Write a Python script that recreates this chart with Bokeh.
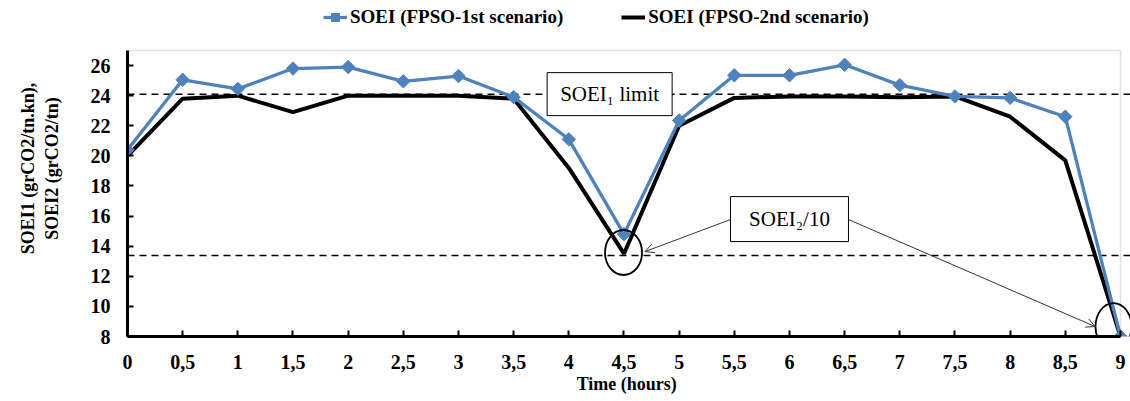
from bokeh.plotting import figure
from bokeh.models import (ColumnDataSource, Legend, LegendItem, Span, Label, Arrow,
                          OpenHead, FixedTicker, Range1d, BoxAnnotation)
from bokeh.embed import file_html
from bokeh.resources import INLINE

hours = [0, 0.5, 1, 1.5, 2, 2.5, 3, 3.5, 4, 4.5, 5, 5.5, 6, 6.5, 7, 7.5, 8, 8.5, 9]
soei_1st = [20.4, 25.05, 24.45, 25.8, 25.9, 24.95, 25.3, 23.9, 21.1, 14.8, 22.35,
            25.35, 25.35, 26.05, 24.7, 23.95, 23.85, 22.6, 8.0]
soei_2nd = [20.0, 23.8, 24.0, 22.9, 24.0, 24.0, 24.0, 23.8, 19.2, 13.5, 22.0,
            23.85, 23.95, 23.95, 23.9, 23.95, 22.6, 19.7, 8.0]
tick_labels = ["0", "0,5", "1", "1,5", "2", "2,5", "3", "3,5", "4", "4,5", "5",
               "5,5", "6", "6,5", "7", "7,5", "8", "8,5", "9"]
y_ticks = [8, 10, 12, 14, 16, 18, 20, 22, 24, 26]
soei1_limit = 24.1
soei2_div10 = 13.38
y_min, y_max = 8, 27
x_min, x_max = 0, 9

BLUE = "#4F81BD"
FONT = "Liberation Serif"

src = ColumnDataSource(dict(x=hours, a=soei_1st, b=soei_2nd))

# frame extends above the chart box so the legend can sit there
p = figure(width=1130, height=401, output_backend="svg", toolbar_location=None,
           x_range=Range1d(x_min, 9.091), y_range=Range1d(y_min, 30.32),
           min_border_left=127, min_border_right=0, min_border_top=0,
           min_border_bottom=65)
p.grid.visible = False
p.outline_line_color = None
p.background_fill_color = "white"

# chart box (gray top/right border)
p.add_layout(BoxAnnotation(left=x_min, right=x_max, bottom=y_min, top=y_max,
                           fill_alpha=0, line_color="#A0A0A0", line_width=1.5,
                           level="underlay"))

# axes
p.xaxis.ticker = FixedTicker(ticks=hours)
p.xaxis.major_label_overrides = {h: t for h, t in zip(hours, tick_labels)}
p.xaxis.bounds = (x_min, x_max)
p.yaxis.ticker = FixedTicker(ticks=y_ticks)
p.yaxis.bounds = (y_min, y_max)
for ax in (p.xaxis[0], p.yaxis[0]):
    ax.axis_line_width = 3
    ax.axis_line_color = "black"
    ax.major_tick_in = 6
    ax.major_tick_out = 0
    ax.major_tick_line_width = 2
    ax.major_tick_line_color = "black"
    ax.minor_tick_line_color = None
    ax.major_label_text_font = FONT
    ax.major_label_text_font_style = "bold"
    ax.major_label_text_font_size = "20px"
    ax.major_label_text_color = "black"
    ax.axis_label_text_font = FONT
    ax.axis_label_text_font_style = "bold"
    ax.axis_label_text_font_size = "18px"
    ax.axis_label_text_color = "black"
p.xaxis.axis_label = "Time  (hours)"
p.xaxis.major_label_standoff = 18
p.xaxis.axis_label_standoff = 2
p.yaxis.axis_label = "SOEI1 (grCO2/tn.kn),\nSOEI2 (grCO2/tn)"
p.yaxis.major_label_standoff = 17
p.yaxis.axis_label_standoff = 26

# reference lines
for yv in (soei1_limit, soei2_div10):
    p.add_layout(Span(location=yv, dimension="width", line_color="black",
                      line_dash="7 5", line_width=1.5, level="underlay"))

# series
l2 = p.line("x", "b", source=src, line_color="black", line_width=4)
l1 = p.line("x", "a", source=src, line_color=BLUE, line_width=3.3)
m1 = p.scatter("x", "a", source=src, marker="square", angle=0.785, size=9.5,
               fill_color=BLUE, line_color=BLUE, line_width=1)

# annotation boxes
p.rect(x=[4.37], y=[soei1_limit], width=125, height=43, width_units="screen",
       height_units="screen", fill_color="white", line_color="black", line_width=1)
p.add_layout(Label(x=4.37, y=soei1_limit, text="SOEI\u2081 limit", text_align="center",
                   text_baseline="middle", text_font=FONT, text_font_size="21px",
                   text_color="black"))
p.rect(x=[6.0], y=[15.8], width=118, height=45, width_units="screen",
       height_units="screen", fill_color="white", line_color="black", line_width=1)
p.add_layout(Label(x=6.0, y=15.8, text="SOEI\u2082/10", text_align="center",
                   text_baseline="middle", text_font=FONT, text_font_size="21px",
                   text_color="black"))

# arrows
p.add_layout(Arrow(x_start=5.465, y_start=15.77, x_end=4.69, y_end=13.64,
                   line_color="#333333", line_width=1,
                   end=OpenHead(size=9, line_color="#333333", line_width=1)))
p.add_layout(Arrow(x_start=6.535, y_start=15.77, x_end=8.77, y_end=8.66,
                   line_color="#333333", line_width=1,
                   end=OpenHead(size=9, line_color="#333333", line_width=1)))

# circles
p.ellipse(x=[4.496, 8.937], y=[13.58, 8.66], width=[37, 36], height=[45, 47],
          width_units="screen", height_units="screen", fill_color=None,
          line_color="black", line_width=1.8)

legend = Legend(items=[LegendItem(label="SOEI (FPSO-1st scenario)", renderers=[l1, m1]),
                       LegendItem(label="SOEI (FPSO-2nd scenario)", renderers=[l2])],
                orientation="horizontal", location=(196, 308),
                label_text_font=FONT, label_text_font_style="bold",
                label_text_font_size="19px", label_text_color="black",
                glyph_width=24, glyph_height=20, spacing=58, label_standoff=3,
                border_line_color=None, background_fill_alpha=0, padding=2, margin=0)
p.add_layout(legend, "center")

open("out.html", "w").write(file_html(p, INLINE))
